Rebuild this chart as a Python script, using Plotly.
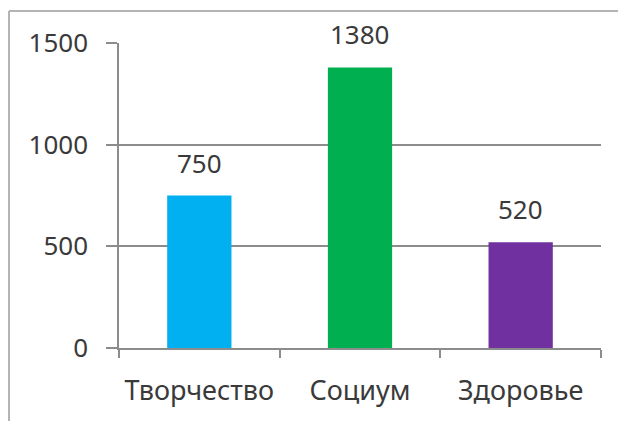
import plotly.graph_objects as go

categories = ["Творчество", "Социум", "Здоровье"]
values = [750, 1380, 520]
colors = ["#00B0F0", "#00B050", "#7030A0"]
y_ticks = [0, 500, 1000, 1500]

FONT = "Noto Sans"
TXT = "#3a3a3a"
GRID = "#8c8c8c"

fig = go.Figure()
fig.add_trace(go.Bar(x=categories, y=values, marker=dict(color=colors, line=dict(width=0)),
                     width=0.4, hoverinfo="skip"))

for c, v in zip(categories, values):
    fig.add_annotation(x=c, y=v, text=str(v), showarrow=False, yanchor="bottom",
                       yshift=13, font=dict(family=FONT, size=26, color=TXT))

# page body has an 8px offset; figure coordinates are shifted accordingly
OFF = 8
W, H = 626 - OFF, 421 - OFF
L, R, T, B = 119 - OFF, 25, 43 - OFF, 73
pw, ph = W - L - R, H - T - B

def px(x):
    return (x - OFF - L) / pw

def py(y):
    return (H - B - (y - OFF)) / ph

frame = "#b4b4b4"
fig.add_shape(type="line", xref="paper", yref="paper", x0=px(9), x1=px(640), y0=py(11), y1=py(11),
              line=dict(color=frame, width=2))
fig.add_shape(type="line", xref="paper", yref="paper", x0=px(9), x1=px(9), y0=py(11), y1=py(440),
              line=dict(color=frame, width=2))

fig.update_layout(
    width=W, height=H,
    margin=dict(l=L, r=R, t=T, b=B, pad=0),
    paper_bgcolor="white", plot_bgcolor="white",
    showlegend=False,
    bargap=0.6,
    font=dict(family=FONT, size=26, color=TXT),
    xaxis=dict(showline=True, linecolor=GRID, linewidth=1.5, ticks="outside", tickson="boundaries",
               ticklen=8, tickcolor=GRID, tickwidth=1.5, showgrid=False,
               tickfont=dict(family=FONT, size=27, color=TXT), ticklabelstandoff=18),
    yaxis=dict(range=[0, 1500], tickvals=y_ticks, showline=True, linecolor=GRID, linewidth=1.5,
               ticks="outside", ticklen=11, tickcolor=GRID, tickwidth=1.5,
               showgrid=True, gridcolor=GRID, gridwidth=1.5, zeroline=False,
               tickfont=dict(family=FONT, size=26, color=TXT), ticklabelstandoff=13),
)

fig.write_html("out.html")
